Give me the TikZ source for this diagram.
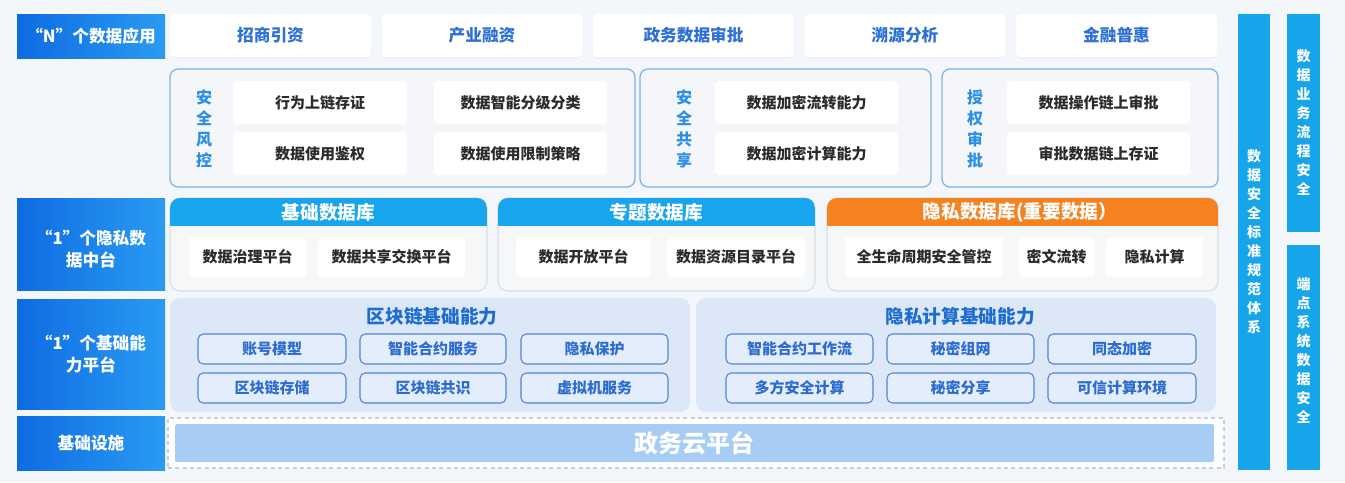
\documentclass[tikz,border=0pt]{standalone}
\usepackage{fontspec}
\setmainfont{Noto Sans CJK SC}
\usetikzlibrary{fit,shadows}
\definecolor{bg}{HTML}{F3F6FB}
\definecolor{lblA}{HTML}{0E6CE2}
\definecolor{lblB}{HTML}{2A9BF2}
\definecolor{apptxt}{HTML}{2D70D6}
\definecolor{secbd}{HTML}{7DB2E2}
\definecolor{secfill}{HTML}{F4F6F9}
\definecolor{seclbl}{HTML}{2A8FE6}
\definecolor{darktxt}{HTML}{2B2B2B}
\definecolor{hdrblue}{HTML}{17A5EE}
\definecolor{hdrorange}{HTML}{F5811F}
\definecolor{dbbd}{HTML}{D9DDE3}
\definecolor{dbfill}{HTML}{F6F7F9}
\definecolor{capfill}{HTML}{DCE7F8}
\definecolor{captitleC}{HTML}{1E6DD0}
\definecolor{capbd}{HTML}{4F85D4}
\definecolor{capin}{HTML}{E4EDFC}
\definecolor{captxt}{HTML}{2D6BCF}
\definecolor{cloud}{HTML}{A7CDF4}
\definecolor{dashc}{HTML}{C9CED6}
\definecolor{colblue}{HTML}{16A4EA}
% #1 shape style, #2 name, #3-#6 corners, #7 text style, #8 text
\newcommand\mybox[8]{%
  \node[#1, fit={(#3,#4) (#5,#6)}] (#2) {};
  \node[#7] (#2t) at (#2.center) {#8};}
\begin{document}
\begin{tikzpicture}[x=0.75pt,y=-0.75pt,
  every node/.style={inner sep=0pt, outer sep=0pt},
  lblbox/.style={rectangle, left color=lblA, right color=lblB},
  lbltext/.style={text=white, font=\bfseries\fontsize{12.5}{16.5}\selectfont, align=center},
  appbox/.style={rectangle, rounded corners=3pt, fill=white,
    drop shadow={opacity=0.08, shadow xshift=0pt, shadow yshift=-1pt}},
  apptext/.style={text=apptxt, font=\bfseries\fontsize{12.5}{15}\selectfont},
  secgrp/.style={rectangle, rounded corners=6pt, draw=secbd, line width=0.9pt, fill=secfill},
  secitem/.style={rectangle, rounded corners=3pt, fill=white},
  itemtext/.style={text=darktxt, font=\bfseries\fontsize{11.25}{13}\selectfont},
  seclabel/.style={text=seclbl, font=\bfseries\fontsize{12}{15.75}\selectfont, align=center},
  dbgrp/.style={rectangle, rounded corners=7.5pt, draw=dbbd, line width=0.8pt, fill=dbfill},
  dbhdr/.style={text=white, font=\bfseries\fontsize{14}{16}\selectfont},
  capgrp/.style={rectangle, rounded corners=7.5pt, fill=capfill},
  captitle/.style={text=captitleC, font=\bfseries\fontsize{14}{16}\selectfont},
  capitem/.style={rectangle, rounded corners=4pt, draw=capbd, line width=0.8pt, fill=capin},
  captext/.style={text=captxt, font=\bfseries\fontsize{11.25}{13}\selectfont},
  colbox/.style={rectangle, fill=colblue},
  coltext/.style={text=white, font=\bfseries\fontsize{10.5}{14.25}\selectfont, align=center}
]
\useasboundingbox (0,0) rectangle (1345,482);
\fill[bg] (0,0) rectangle (1345,482);

% left labels
\mybox{lblbox}{Ln}{17}{14}{165}{58}{lbltext}{“N”个数据应用}
\node[lblbox, fit={(17,198) (165,290)}] (Lp) {};
\node[lbltext] (Lpt) at (91,249) {“1”个隐私数\\据中台};
\mybox{lblbox}{Lb}{17}{299}{165}{409}{lbltext}{“1”个基础能\\力平台}
\mybox{lblbox}{Li}{17}{416}{165}{470}{lbltext}{基础设施}

% apps
\mybox{appbox}{A1}{170}{14}{371}{57}{apptext}{招商引资}
\mybox{appbox}{A2}{381.5}{14}{582.5}{57}{apptext}{产业融资}
\mybox{appbox}{A3}{593}{14}{794}{57}{apptext}{政务数据审批}
\mybox{appbox}{A4}{804.5}{14}{1005.5}{57}{apptext}{溯源分析}
\mybox{appbox}{A5}{1016}{14}{1217}{57}{apptext}{金融普惠}

% security groups
\node[secgrp, fit={(170,69) (635,187)}] (S1) {};
\node[seclabel] (S1l) at (204,129) {安\\全\\风\\控};
\mybox{secitem}{S11}{233}{81}{407}{124}{itemtext}{行为上链存证}
\mybox{secitem}{S12}{434}{81}{607}{124}{itemtext}{数据智能分级分类}
\mybox{secitem}{S13}{233}{132}{407}{175}{itemtext}{数据使用鉴权}
\mybox{secitem}{S14}{434}{132}{607}{175}{itemtext}{数据使用限制策略}

\node[secgrp, fit={(640,69) (931,187)}] (S2) {};
\node[seclabel] (S2l) at (684,129) {安\\全\\共\\享};
\mybox{secitem}{S21}{715}{81}{898}{124}{itemtext}{数据加密流转能力}
\mybox{secitem}{S22}{715}{132}{898}{175}{itemtext}{数据加密计算能力}

\node[secgrp, fit={(942,69) (1218,187)}] (S3) {};
\node[seclabel] (S3l) at (975,129) {授\\权\\审\\批};
\mybox{secitem}{S31}{1007}{81}{1190}{124}{itemtext}{数据操作链上审批}
\mybox{secitem}{S32}{1007}{132}{1190}{175}{itemtext}{审批数据链上存证}

% databases
\node[dbgrp, fit={(170,198) (487,291)}] (D1) {};
\begin{scope}
\clip[rounded corners=7.5pt] (170,198) rectangle (487,291);
\fill[hdrblue] (170,198) rectangle (487,226);
\end{scope}
\node[dbhdr] (D1t) at (328.5,212) {基础数据库};
\mybox{secitem}{D11}{189}{237}{306}{277}{itemtext}{数据治理平台}
\mybox{secitem}{D12}{318}{237}{465}{277}{itemtext}{数据共享交换平台}

\node[dbgrp, fit={(498,198) (815,291)}] (D2) {};
\begin{scope}
\clip[rounded corners=7.5pt] (498,198) rectangle (815,291);
\fill[hdrblue] (498,198) rectangle (815,226);
\end{scope}
\node[dbhdr] (D2t) at (656.5,212) {专题数据库};
\mybox{secitem}{D21}{516}{237}{651}{277}{itemtext}{数据开放平台}
\mybox{secitem}{D22}{667}{237}{805}{277}{itemtext}{数据资源目录平台}

\node[dbgrp, fit={(827,198) (1218,291)}] (D3) {};
\begin{scope}
\clip[rounded corners=7.5pt] (827,198) rectangle (1218,291);
\fill[hdrorange] (827,198) rectangle (1218,226);
\end{scope}
\node[dbhdr] (D3t) at (1020,212) {隐私数据库(重要数据）};
\mybox{secitem}{D31}{845}{237}{1003}{277}{itemtext}{全生命周期安全管控}
\mybox{secitem}{D32}{1019}{237}{1094}{277}{itemtext}{密文流转}
\mybox{secitem}{D33}{1106}{237}{1203}{277}{itemtext}{隐私计算}

% capabilities
\node[capgrp, fit={(170,298) (690,412)}] (C1) {};
\node[captitle] (C1t) at (432,316) {区块链基础能力};
\mybox{capitem}{C11}{198}{334}{346}{364}{captext}{账号模型}
\mybox{capitem}{C12}{360}{334}{506}{364}{captext}{智能合约服务}
\mybox{capitem}{C13}{521}{334}{668}{364}{captext}{隐私保护}
\mybox{capitem}{C14}{198}{373}{346}{403}{captext}{区块链存储}
\mybox{capitem}{C15}{360}{373}{506}{403}{captext}{区块链共识}
\mybox{capitem}{C16}{521}{373}{668}{403}{captext}{虚拟机服务}

\node[capgrp, fit={(696,298) (1216,412)}] (C2) {};
\node[captitle] (C2t) at (960,316) {隐私计算基础能力};
\mybox{capitem}{C21}{726}{334}{873}{364}{captext}{智能合约工作流}
\mybox{capitem}{C22}{887}{334}{1034}{364}{captext}{秘密组网}
\mybox{capitem}{C23}{1048}{334}{1196}{364}{captext}{同态加密}
\mybox{capitem}{C24}{726}{373}{873}{403}{captext}{多方安全计算}
\mybox{capitem}{C25}{887}{373}{1034}{403}{captext}{秘密分享}
\mybox{capitem}{C26}{1048}{373}{1196}{403}{captext}{可信计算环境}

% infrastructure
\node[rectangle, draw=dashc, line width=1.1pt, dash pattern=on 3pt off 2.5pt, fill=white,
  fit={(168,418) (1224,468)}] (I0) {};
\mybox{rectangle, rounded corners=1.5pt, fill=cloud}{I1}{175}{424}{1214}{462}{text=white, font=\bfseries\fontsize{18}{20}\selectfont}{政务云平台}

% right columns
\mybox{colbox}{R1}{1238}{14}{1270}{470}{coltext}{数\\据\\安\\全\\标\\准\\规\\范\\体\\系}
\mybox{colbox}{R2}{1287}{14}{1320}{232}{coltext}{数\\据\\业\\务\\流\\程\\安\\全}
\node[colbox, fit={(1287,245) (1320,470)}] (R3) {};
\node[coltext] (R3t) at (1303.5,351) {端\\点\\系\\统\\数\\据\\安\\全};
\end{tikzpicture}
\end{document}
